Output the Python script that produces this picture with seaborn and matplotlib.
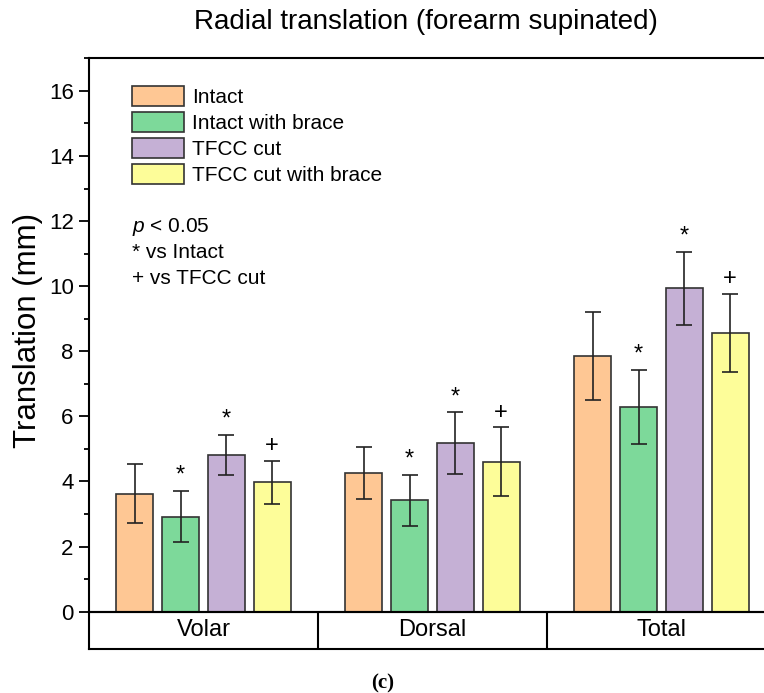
import pandas as pd
import seaborn as sns
import matplotlib.pyplot as plt
from matplotlib.ticker import MultipleLocator

directions = ["Volar", "Dorsal", "Total"]
conditions = ["Intact", "Intact with brace", "TFCC cut", "TFCC cut with brace"]
colors = ["#FEC794", "#7DD99A", "#C5B0D5", "#FDFD99"]

# mean translation (mm) per condition, in order Volar / Dorsal / Total
intact = [3.63, 4.26, 7.85]
intact_brace = [2.92, 3.42, 6.30]
tfcc_cut = [4.81, 5.18, 9.94]
tfcc_cut_brace = [3.97, 4.61, 8.56]

# standard deviations
intact_sd = [0.90, 0.79, 1.35]
intact_brace_sd = [0.79, 0.79, 1.14]
tfcc_cut_sd = [0.62, 0.94, 1.12]
tfcc_cut_brace_sd = [0.65, 1.05, 1.21]

# significance marks per condition
sig_marks = ["", "*", "*", "+"]

means = [intact, intact_brace, tfcc_cut, tfcc_cut_brace]
sds = [intact_sd, intact_brace_sd, tfcc_cut_sd, tfcc_cut_brace_sd]

rows = []
for cond, vals in zip(conditions, means):
    for d, v in zip(directions, vals):
        rows.append({"direction": d, "condition": cond, "translation": v})
df = pd.DataFrame(rows)

sns.set_theme(style="ticks")
plt.rcParams["font.family"] = ["Liberation Sans", "DejaVu Sans"]
plt.rcParams["mathtext.fontset"] = "custom"
plt.rcParams["mathtext.it"] = "Liberation Sans:italic"
plt.rcParams["mathtext.rm"] = "Liberation Sans"
for k in ["text.color", "axes.labelcolor", "xtick.color", "ytick.color",
          "xtick.labelcolor", "ytick.labelcolor", "legend.labelcolor"]:
    plt.rcParams[k] = "black"

W, H = 764, 693
fig = plt.figure(figsize=(W / 100, H / 100), dpi=100)
x0, x1 = 89, 776
y_top, y_zero, y_tab = 58.3, 611.7, 649
ax = fig.add_axes([x0 / W, 1 - y_zero / H, (x1 - x0) / W, (y_zero - y_top) / H])

sns.barplot(data=df, x="direction", y="translation", hue="condition",
            order=directions, hue_order=conditions, palette=colors,
            errorbar=None, width=0.8, gap=0.2, saturation=1,
            edgecolor="#333333", linewidth=1.2, ax=ax)

for cont, errs, mark in zip(ax.containers, sds, sig_marks):
    for bar, err in zip(cont, errs):
        cx = bar.get_x() + bar.get_width() / 2
        h = bar.get_height()
        ax.errorbar(cx, h, yerr=err, color="#222222", elinewidth=1.2,
                     capsize=5.5, capthick=1.2)
        if mark:
            ax.text(cx, h + err + 0.12, mark, ha="center", va="bottom",
                    fontsize=17, color="black")

ax.set_xlim(-0.5, 2.5)
ax.set_ylim(0, 17)
ax.set_xticks([])
ax.set_xlabel("")
ax.set_ylabel("")
ax.yaxis.set_major_locator(MultipleLocator(2))
ax.yaxis.set_minor_locator(MultipleLocator(1))
ax.tick_params(axis="y", which="major", length=7, width=1.3, labelsize=16,
               direction="out", pad=4, colors="black")
ax.tick_params(axis="y", which="minor", length=3.5, width=1.3, direction="out")
for s in ["left", "top", "bottom", "right"]:
    ax.spines[s].set_visible(True)
    ax.spines[s].set_linewidth(1.5)
    ax.spines[s].set_color("black")

handles, labels = ax.get_legend_handles_labels()
ax.legend(handles, labels, loc="upper left",
          bbox_to_anchor=(132 / W, 1 - 86 / H), bbox_transform=fig.transFigure,
          frameon=False, fontsize=15, borderpad=0, borderaxespad=0,
          handlelength=2.5, handleheight=1.1, labelspacing=0.24,
          handletextpad=0.4, labelcolor="black")

fig.text(132 / W, 1 - 226.7 / H, r"$p$ < 0.05", fontsize=15, va="center", ha="left")
fig.text(132 / W, 1 - 252.7 / H, "* vs Intact", fontsize=15, va="center", ha="left")
fig.text(132 / W, 1 - 278 / H, "+ vs TFCC cut", fontsize=15, va="center", ha="left")

# category table under the axis
tab = fig.add_axes([x0 / W, 1 - y_tab / H, (x1 - x0) / W, (y_tab - y_zero) / H])
tab.set_xlim(-0.5, 2.5)
tab.set_ylim(0, 1)
tab.set_xticks([])
tab.set_yticks([])
tab.patch.set_alpha(0)
for s in ["left", "top", "bottom", "right"]:
    tab.spines[s].set_linewidth(1.5)
    tab.spines[s].set_color("black")
for i in range(len(directions) - 1):
    tab.axvline(i + 0.5, color="black", linewidth=1.5)
for i, d in enumerate(directions):
    tab.text(i, 0.5, d, ha="center", va="center", fontsize=17)

fig.text(426 / W, 1 - 22 / H, "Radial translation (forearm supinated)",
         ha="center", va="center", fontsize=20)
fig.text(28 / W, 1 - 330 / H, "Translation (mm)", rotation=90,
         ha="center", va="center", fontsize=22.5)
fig.text(383 / W, 1 - 683 / H, "(c)", ha="center", va="center", fontsize=15,
         family=["Liberation Serif", "DejaVu Serif"], fontweight="bold")

fig.savefig("out.png", dpi=100)
